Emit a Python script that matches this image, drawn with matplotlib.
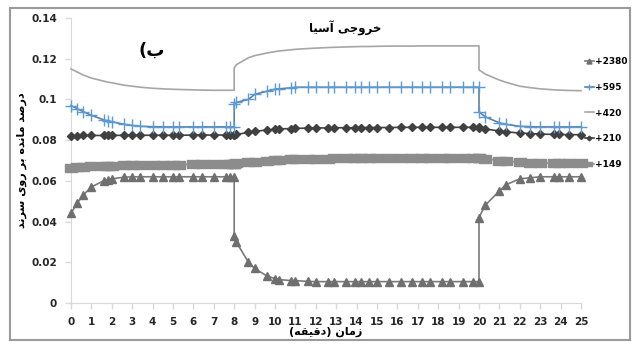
import numpy as np
import matplotlib
matplotlib.use('Agg')
import matplotlib.pyplot as plt
from matplotlib.patches import Rectangle

plt.rcParams['font.family'] = ['DejaVu Sans']

# time in minutes (the jumps at 8 and 20 are given twice)
time = [0, 0.3, 0.6, 1.0, 1.6, 1.8, 2.0, 2.6, 3.0, 3.4, 4.0, 4.5, 5.0, 5.3, 6.0, 6.4, 7.0, 7.6, 7.8, 8.0,
        8.0, 8.1, 8.7, 9.0, 9.6, 10.0, 10.2, 10.8, 11.0, 11.6, 12.0, 12.6, 12.9, 13.5, 13.9, 14.2, 14.6,
        15.0, 15.6, 16.2, 16.7, 17.2, 17.6, 18.2, 18.6, 19.2, 19.7, 20.0,
        20.0, 20.3, 21.0, 21.3, 22.0, 22.5, 23.0, 23.7, 23.9, 24.4, 25.0]

s2380 = [0.044, 0.049, 0.053, 0.057, 0.060, 0.0605, 0.061, 0.0618, 0.062, 0.062, 0.062, 0.062, 0.062,
         0.062, 0.062, 0.062, 0.062, 0.062, 0.062, 0.062,
         0.033, 0.030, 0.020, 0.017, 0.0133, 0.012, 0.0115, 0.011, 0.011, 0.0106, 0.0105] + [0.0105] * 17 + \
        [0.042, 0.048, 0.055, 0.058, 0.061, 0.0615, 0.062, 0.062, 0.062, 0.062, 0.062]

s595 = [0.097, 0.0955, 0.094, 0.0922, 0.090, 0.0895, 0.089, 0.0878, 0.0872, 0.0868, 0.0866, 0.0865,
        0.0865, 0.0865, 0.0865, 0.0865, 0.0865, 0.0865, 0.0865, 0.0865,
        0.098, 0.0985, 0.100, 0.1025, 0.104, 0.105, 0.1052, 0.1057, 0.106, 0.106] + [0.106] * 18 + \
       [0.094, 0.0915, 0.0885, 0.0878, 0.0868, 0.0866, 0.0865, 0.0865, 0.0865, 0.0865, 0.0865]

s420 = [0.115, 0.1135, 0.112, 0.1105, 0.109, 0.1085, 0.1082, 0.107, 0.1065, 0.106, 0.1055, 0.1052,
        0.105, 0.1049, 0.1047, 0.1046, 0.1045, 0.1045, 0.1045, 0.1045,
        0.1155, 0.117, 0.1205, 0.1215, 0.1228, 0.1235, 0.1238, 0.1244, 0.1246, 0.125, 0.1252, 0.1255,
        0.1256, 0.1258, 0.1259, 0.126, 0.126, 0.1261, 0.1262, 0.1262, 0.1262] + [0.1263] * 7 + \
       [0.1145, 0.1125, 0.1095, 0.1085, 0.1065, 0.1058, 0.1052, 0.1047, 0.1046, 0.1044, 0.1043]

s210 = [0.0822, 0.0822, 0.0823, 0.0823, 0.0823, 0.0823, 0.0823, 0.0824, 0.0824, 0.0824, 0.0824,
        0.0824, 0.0824, 0.0824, 0.0825, 0.0825, 0.0825, 0.0825, 0.0825, 0.0825,
        0.0826, 0.0828, 0.0838, 0.0843, 0.085, 0.0853, 0.0855, 0.0857, 0.0858, 0.0859, 0.086, 0.086,
        0.0861, 0.0861, 0.0861, 0.0862, 0.0862, 0.0862, 0.0862] + [0.0863] * 9 + \
       [0.0862, 0.0855, 0.0845, 0.0841, 0.0835, 0.0832, 0.083, 0.0828, 0.0828, 0.0827, 0.0827]

s149 = [0.0665, 0.0668, 0.067, 0.0672, 0.0674, 0.0675, 0.0675, 0.0677, 0.0678, 0.0678, 0.0679, 0.068,
        0.068, 0.068, 0.0681, 0.0681, 0.0682, 0.0683, 0.0683, 0.0683,
        0.0685, 0.0686, 0.0692, 0.0695, 0.0699, 0.0702, 0.0703, 0.0705, 0.0706, 0.0707, 0.0708, 0.0709,
        0.071, 0.071, 0.0711, 0.0711, 0.0712, 0.0712, 0.0712] + [0.0713] * 5 + [0.0714] * 4 + \
       [0.0712, 0.0708, 0.0700, 0.0697, 0.0692, 0.069, 0.0688, 0.0687, 0.0686, 0.0686, 0.0686]

x_ticks = list(range(0, 26))
y_ticks = [0, 0.02, 0.04, 0.06, 0.08, 0.1, 0.12, 0.14]
y_tick_labels = ['0', '0.02', '0.04', '0.06', '0.08', '0.1', '0.12', '0.14']


def rtl(s):
    # already shaped (presentation forms) -> visual order for left-to-right drawing
    return ''.join({'(': ')', ')': '('}.get(c, c) for c in reversed(s))


title_txt = rtl('\uFEA7\uFEAE\uFEED\uFE9F\uFBFD \uFE81\uFEB3\uFBFF\uFE8E')  # خروجی آسیا
ylabel_txt = rtl('\uFEA9\uFEAD\uFEBB\uFEAA \uFEE3\uFE8E\uFEE7\uFEAA\uFEE9 \uFE91\uFEAE '
                 '\uFEAD\uFEED\uFBFC \uFEB3\uFEAE\uFEE7\uFEAA')  # درصد مانده بر روی سرند
xlabel_txt = rtl('\uFEAF\uFEE3\uFE8E\uFEE5 (\uFEA9\uFED7\uFBFF\uFED8\uFEEA)')  # زمان (دقیقه)
panel_txt = rtl('\uFE8F)')  # ب)

fig = plt.figure(figsize=(6.32, 3.47), dpi=100)
ax = fig.add_axes([0.1123, 0.1268, 0.8070, 0.8213])

t = np.array(time)
rect = [(-1, -0.65), (1, -0.65), (1, 0.65), (-1, 0.65), (-1, -0.65)]

ax.plot(t, s149, color='#8c8c8c', lw=1.2, marker=rect, ms=8, mfc='#8c8c8c', mec='#8c8c8c',
        label='+149', clip_on=False, zorder=3)
ax.plot(t, s210, color='#404040', lw=1.2, marker='D', ms=4, mfc='#404040', mec='#404040',
        label='+210', clip_on=False, zorder=4)
ax.plot(t, s420, color='#a6a6a6', lw=1.2, label='+420', clip_on=False, zorder=3)
ax.plot(t, s595, color='#5f7f9f', lw=1.2, marker='+', ms=8, mew=1.0, mec='#5b9bd5',
        label='+595', clip_on=False, zorder=4)
ax.plot(t, s2380, color='#7a7a7a', lw=1.2, marker='^', ms=6, mfc='#6f6f6f', mec='#6f6f6f',
        label='+2380', clip_on=False, zorder=3)

ax.set_xlim(0, 25)
ax.set_ylim(0, 0.14)
ax.set_xticks(x_ticks)
ax.set_yticks(y_ticks)
ax.set_yticklabels(y_tick_labels)
for s in ['top', 'right']:
    ax.spines[s].set_visible(False)
for s in ['left', 'bottom']:
    ax.spines[s].set_color('#d9d9d9')
ax.tick_params(axis='both', color='#d9d9d9', length=4, width=1, labelsize=7.5,
               labelcolor='#262626', pad=6)
for lab in ax.get_xticklabels() + ax.get_yticklabels():
    lab.set_fontweight('bold')

ax.text(0.537, 0.965, title_txt, transform=ax.transAxes, fontsize=8.5, fontweight='bold',
        ha='center', va='center')
ax.set_ylabel(ylabel_txt, fontsize=8, fontweight='bold', labelpad=3)
ax.set_xlabel(xlabel_txt, fontsize=8, fontweight='bold', labelpad=0)
fig.text(0.240, 0.855, panel_txt, fontsize=13, fontweight='bold', ha='center', va='center')

handles, labels = ax.get_legend_handles_labels()
order = [4, 3, 2, 1, 0]
leg = fig.legend([handles[i] for i in order], [labels[i] for i in order],
                 loc='upper left', bbox_to_anchor=(0.925, 0.835), frameon=False,
                 borderaxespad=0, borderpad=0,
                 handlelength=1.0, handletextpad=0.1, labelspacing=1.85, fontsize=6.5,
                 markerscale=0.6)
for txt in leg.get_texts():
    txt.set_fontweight('bold')

fig.patches.append(Rectangle((10 / 632, 1 - 340 / 347), 620 / 632, 332 / 347,
                             transform=fig.transFigure, fill=False, ec='#9a9a9a', lw=1.5))

fig.savefig('out.png', dpi=100)
